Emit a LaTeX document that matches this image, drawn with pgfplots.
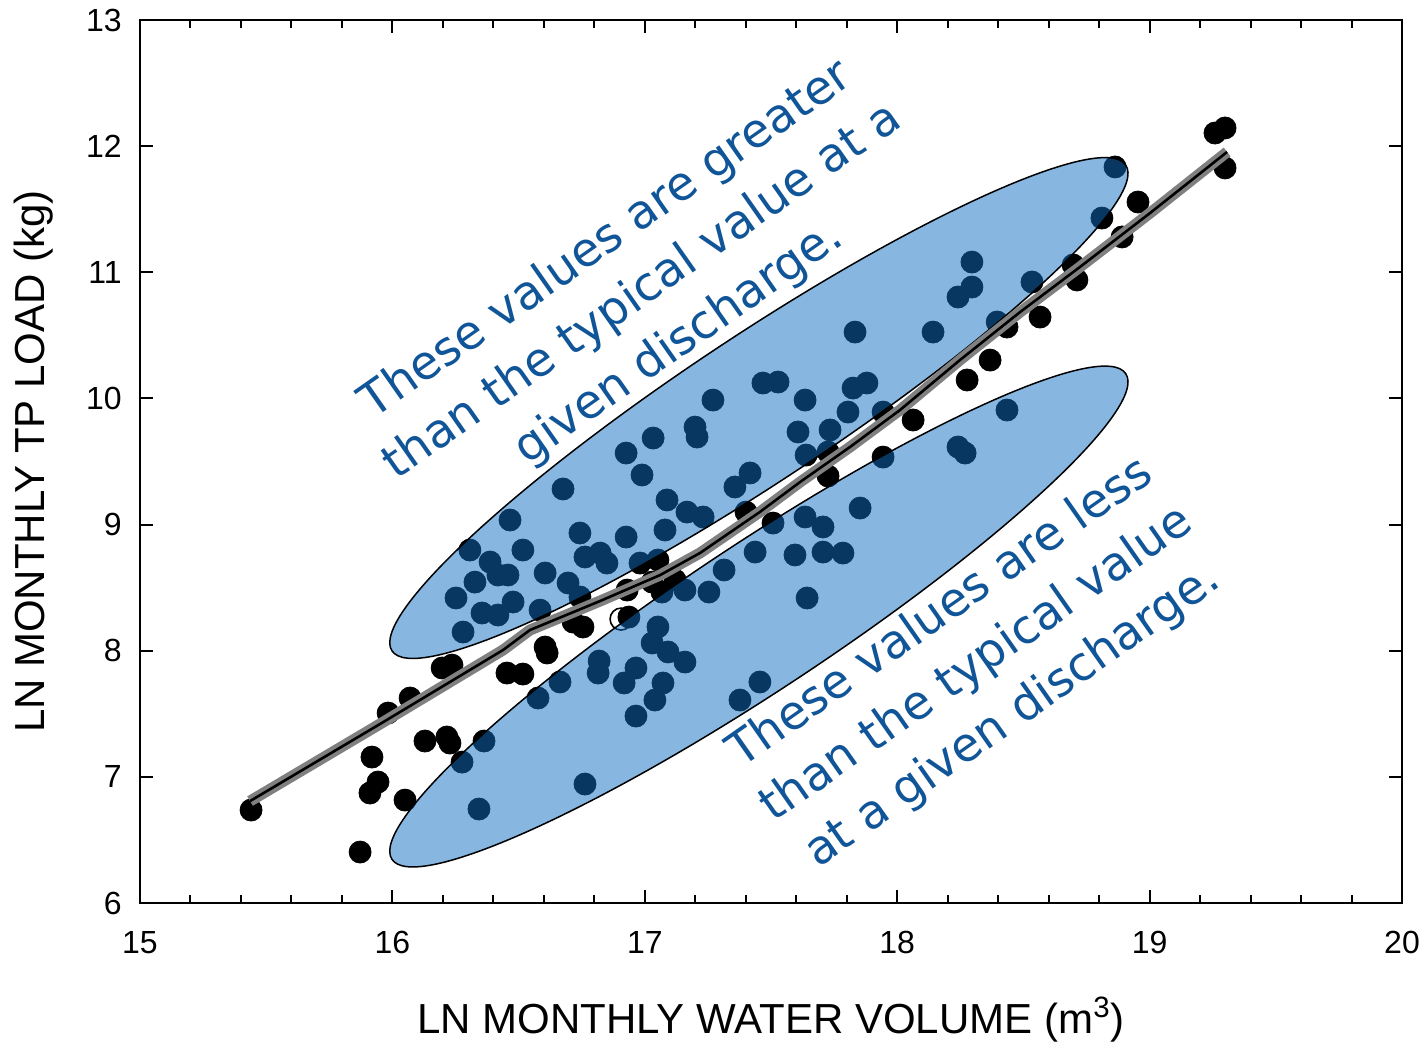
\documentclass[border=0pt]{standalone}
\usepackage{pgfplots}
\pgfplotsset{compat=1.18}
\usepackage{fontspec}
\setmainfont{Liberation Sans}
\newfontfamily\dejavu{DejaVu Sans}
\definecolor{ellblue}{RGB}{16,112,196}
\definecolor{textblue}{RGB}{17,85,153}
\definecolor{linegray}{RGB}{128,128,128}
\pgfdeclarelayer{ellipses}
\pgfdeclarelayer{fitline}
\pgfplotsset{
  layers/mylayers/.define layer set={axis background,axis grid,axis ticks,axis lines,axis tick labels,main,ellipses,fitline,axis descriptions,axis foreground}{},
}
\begin{document}
\begin{tikzpicture}
\begin{axis}[
  set layers=mylayers,
  scale only axis,
  width=631pt, height=441.5pt,
  xmin=15, xmax=20, ymin=6, ymax=13,
  xtick={15,16,17,18,19,20},
  ytick={6,7,8,9,10,11,12,13},
  minor x tick num=4,
  tick align=inside,
  major tick length=6.5pt,
  minor tick length=4pt,
  every tick/.style={black, line width=1pt},
  axis line style={line width=1.3pt},
  /pgf/number format/assume math mode=true,
  ticklabel style={font=\fontsize{16}{19}\selectfont},
  xticklabel style={inner sep=0pt, yshift=-14pt},
  yticklabel style={inner sep=0pt, xshift=-9pt},
  xlabel={LN MONTHLY WATER VOLUME (m\textsuperscript{3})},
  ylabel={LN MONTHLY TP LOAD (kg)},
  label style={font=\fontsize{21}{25}\selectfont},
  xlabel style={at={(axis description cs:0.5,0)}, anchor=base, yshift=-65pt},
  ylabel style={at={(axis description cs:0,0.5)}, anchor=base, yshift=47.5pt},
]
\coordinate (sw) at (rel axis cs:0,0);
\coordinate (ne) at (rel axis cs:1,1);
% open (white) point
\addplot[only marks, mark=*, mark size=5.5pt, mark options={fill=white, draw=black, line width=0.8pt}] coordinates {(16.906,8.251)};
% data points
\addplot[only marks, mark=*, mark size=5.5pt, mark options={fill=black, draw=black}] coordinates {
(15.440,6.737) (15.872,6.404) (15.911,6.872) (15.943,6.959) (15.919,7.157)
(16.050,6.816) (15.983,7.506) (16.070,7.625) (16.129,7.284) (16.216,7.316)
(16.228,7.268) (16.276,7.117) (16.363,7.284) (16.343,6.745) (16.197,7.863)
(16.236,7.886) (16.454,7.823) (16.517,7.815) (16.605,8.029) (16.613,7.982)
(16.716,8.227) (16.755,8.188) (16.930,8.481) (16.937,8.267) (16.763,6.943)
(16.307,8.798) (16.387,8.703) (16.418,8.600) (16.458,8.600) (16.327,8.544)
(16.252,8.418) (16.355,8.299) (16.418,8.283) (16.478,8.386) (16.280,8.148)
(16.517,8.798) (16.466,9.036) (16.605,8.616) (16.696,8.537) (16.743,8.426)
(16.585,8.322) (16.676,9.282) (16.743,8.933) (16.763,8.743) (16.823,8.774)
(16.850,8.695) (16.926,8.901) (16.926,9.567) (17.033,9.686) (17.199,9.773)
(17.207,9.694) (16.989,9.393) (17.088,9.195) (17.167,9.099) (17.231,9.060)
(17.080,8.957) (17.357,9.298) (17.417,9.409) (17.401,9.099) (17.508,9.012)
(16.981,8.695) (17.052,8.719) (17.029,8.544) (17.120,8.560) (17.068,8.465)
(17.159,8.481) (17.254,8.465) (17.314,8.640) (17.270,9.987) (17.468,10.122)
(17.528,10.130) (17.635,9.987) (17.607,9.734) (17.734,9.750) (17.825,10.082)
(17.880,10.122) (17.805,9.892) (17.944,9.892) (17.639,9.551) (17.726,9.385)
(17.726,9.575) (18.063,9.829) (18.241,9.615) (18.269,9.567) (17.944,9.535)
(18.296,11.081) (18.296,10.883) (18.241,10.804) (17.833,10.526) (18.142,10.526)
(18.396,10.606) (18.435,10.566) (18.368,10.304) (18.277,10.146) (18.435,9.908)
(19.299,12.144) (19.259,12.104) (19.299,11.827) (18.863,11.835) (18.954,11.557)
(18.811,11.430) (18.891,11.280) (18.697,11.058) (18.712,10.939) (18.534,10.923)
(18.566,10.645) (17.635,9.060) (17.706,8.981) (17.853,9.131) (17.437,8.782)
(17.595,8.759) (17.706,8.782) (17.785,8.774) (17.643,8.418)
(17.052,8.188) (17.029,8.061) (17.092,7.990) (17.159,7.910) (16.819,7.918)
(16.815,7.823) (16.965,7.863) (17.072,7.744) (16.918,7.744) (17.040,7.609)
(16.965,7.482) (17.456,7.752) (17.377,7.609) (16.664,7.752) (16.577,7.625)
};
% highlighted regions (drawn over the points)
\begin{pgfonlayer}{ellipses}
\draw[black, line width=0.75pt, fill=ellblue, fill opacity=0.5, rotate around={33.5:(axis cs:17.452,9.924)}]
  (axis cs:17.452,9.924) ellipse [x radius=220pt, y radius=36.5pt];
\draw[black, line width=0.75pt, fill=ellblue, fill opacity=0.5, rotate around={33.5:(axis cs:17.452,8.271)}]
  (axis cs:17.452,8.271) ellipse [x radius=220pt, y radius=36.5pt];
\end{pgfonlayer}
% smooth fit
\addplot[on layer=fitline, linegray, line width=5.5pt, line join=round] coordinates {
(15.436,6.808) (15.951,7.419) (16.438,8.005) (16.545,8.164) (16.823,8.394)
(17.061,8.600) (17.219,8.775) (17.456,9.100) (17.615,9.337) (17.813,9.615)
(18.011,9.908) (18.249,10.305) (18.487,10.685) (18.724,11.042) (19.002,11.470)
(19.307,11.954)};
\addplot[on layer=fitline, black, line width=1.3pt, line join=round] coordinates {
(15.436,6.808) (15.951,7.419) (16.438,8.005) (16.545,8.164) (16.823,8.394)
(17.061,8.600) (17.219,8.775) (17.456,9.100) (17.615,9.337) (17.813,9.615)
(18.011,9.908) (18.249,10.305) (18.487,10.685) (18.724,11.042) (19.002,11.470)
(19.307,11.954)};
% annotations
\begin{pgfonlayer}{axis foreground}
\node[rotate=35, align=center, text=textblue, font=\fontsize{23.5}{31.5}\selectfont\dejavu]
  at (axis cs:16.993,10.844) {These values are greater\\than the typical value at a\\given discharge.};
\node[rotate=35, align=center, text=textblue, font=\fontsize{23.5}{31.5}\selectfont\dejavu]
  at (axis cs:18.316,7.887) {These values are less\\than the typical value\\at a given discharge.};
\end{pgfonlayer}
\end{axis}
\pgfresetboundingbox
\path ([shift={(-70pt,-70pt)}]sw) rectangle ([shift={(12pt,10pt)}]ne);
\end{tikzpicture}
\end{document}
